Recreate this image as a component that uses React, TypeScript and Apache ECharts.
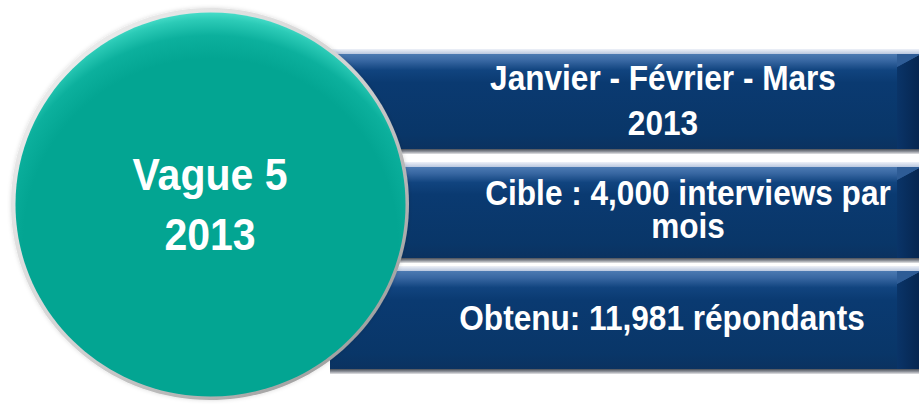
import React, { useEffect, useRef } from "react";
import * as echarts from "echarts";

// ---- content ----
const circleLines: string[] = ["Vague 5", "2013"];
const barLines: string[][] = [
  ["Janvier - Février - Mars", "2013"],
  ["Cible : 4,000 interviews par", "mois"],
  ["Obtenu: 11,981 répondants"],
];

// ---- layout (presentation only) ----
const W = 919;
const H = 406;
const BAR_X0 = 330;
const BAR_X1 = 919;
const barTops = [54, 167, 271];
const barBottoms = [149, 258, 369];
const barTextBaselines = [[90, 135], [205, 238], [330]];
const barTextCx = [663, 688, 662];
const circle = { cx: 210, cy: 204, rx: 199, ry: 196 };
const circleBaselines = [190, 250];

const FONT = "'Liberation Sans', Arial, Helvetica, sans-serif";

function lin(x1: number, y1: number, x2: number, y2: number, stops: [number, string][]) {
  return new echarts.graphic.LinearGradient(
    x1, y1, x2, y2,
    stops.map(([offset, color]) => ({ offset, color }))
  );
}

function buildGraphics() {
  const els: any[] = [];
  // bars
  barTops.forEach((y0, i) => {
    const y1 = barBottoms[i];
    const h = y1 - y0;
    els.push({
      type: "rect",
      shape: { x: BAR_X0, y: y0 - 5, width: BAR_X1 - BAR_X0, height: 5 },
      style: { fill: lin(0, 0, 0, 1, [[0, "#eef1f8"], [1, "#b9c7df"]]) },
    });
    els.push({
      type: "rect",
      shape: { x: BAR_X0, y: y0, width: BAR_X1 - BAR_X0, height: h },
      style: {
        fill: lin(0, 0, 0, 1, [
          [0, "#4c7ab2"],
          [0.07, "#3867a2"],
          [0.17, "#11447f"],
          [0.3, "#0a3a71"],
          [0.85, "#093668"],
          [1, "#0b3260"],
        ]),
      },
    });
    els.push({
      type: "polygon",
      shape: { points: [[897, y0 + 13], [919, y0 + 1], [919, y1], [897, y1]] },
      style: { fill: lin(0, 0, 1, 0, [[0, "#0a3468"], [1, "#062650"]]) },
    });
    els.push({
      type: "polygon",
      shape: { points: [[897, y0 + 13], [919, y0 + 1], [919, y0], [897, y0]] },
      style: { fill: "#2e5c96" },
    });
    els.push({
      type: "rect",
      shape: { x: BAR_X0, y: y1, width: BAR_X1 - BAR_X0, height: 5 },
      style: { fill: lin(0, 0, 0, 1, [[0, "#4a4f58"], [0.5, "#8c9098"], [1, "#e4e4e6"]]) },
    });
    barLines[i].forEach((t, j) => {
      els.push({
        type: "text",
        x: barTextCx[i],
        y: barTextBaselines[i][j] - 12.2,
        scaleY: 1.1,
        style: {
          text: t,
          fill: "#ffffff",
          font: `bold 31.6px ${FONT}`,
          align: "center",
          verticalAlign: "middle",
        },
        z: 10,
      });
    });
  });

  // circle rim
  els.push({
    type: "ellipse",
    shape: { cx: circle.cx, cy: circle.cy, rx: circle.rx, ry: circle.ry },
    style: {
      fill: lin(0, 0, 1, 1, [[0, "#f4f4f4"], [0.5, "#d2d2d2"], [1, "#8e8e8e"]]),
      shadowBlur: 4,
      shadowColor: "rgba(0,0,0,0.15)",
    },
    z: 20,
  });
  // circle face
  els.push({
    type: "ellipse",
    shape: { cx: circle.cx + 0.5, cy: circle.cy + 0.5, rx: circle.rx - 4, ry: circle.ry - 4 },
    style: {
      fill: new echarts.graphic.RadialGradient(0.5, 0.6, 0.6, [
        { offset: 0, color: "#03a592" },
        { offset: 0.8, color: "#03a592" },
        { offset: 0.9, color: "#0cb09d" },
        { offset: 0.97, color: "#2ccbb7" },
        { offset: 1, color: "#46dcc8" },
      ]),
    },
    z: 21,
  });
  circleLines.forEach((t, j) => {
    els.push({
      type: "text",
      x: circle.cx,
      y: circleBaselines[j] - 15.6,
      scaleY: 1.08,
      style: {
        text: t,
        fill: "#ffffff",
        font: `bold 41px ${FONT}`,
        align: "center",
        verticalAlign: "middle",
      },
      z: 30,
    });
  });
  return els;
}

export default function App() {
  const ref = useRef<HTMLDivElement>(null);
  useEffect(() => {
    document.body.style.margin = "0";
    if (!ref.current) return;
    const chart = echarts.init(ref.current, undefined, { renderer: "svg" });
    chart.setOption({
      animation: false,
      backgroundColor: "#ffffff",
      graphic: { elements: buildGraphics() },
    });
    return () => chart.dispose();
  }, []);
  return <div ref={ref} style={{ width: W, height: H }} />;
}
